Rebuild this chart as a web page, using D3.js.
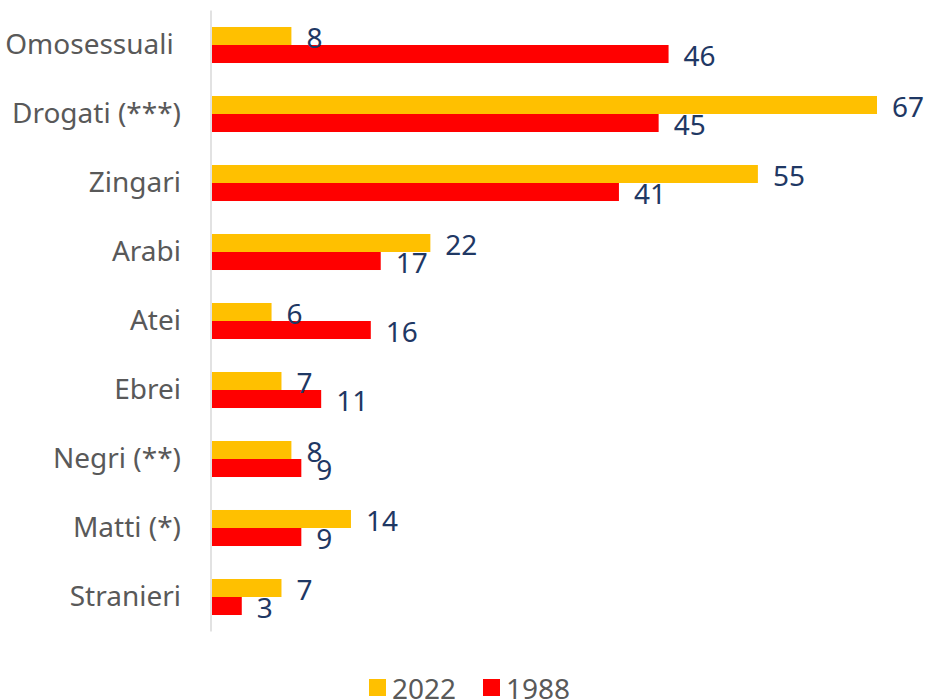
<!doctype html>
<html lang="it">
  <head>
    <meta charset="utf-8">
    <title>Pregiudizi 1988 - 2022</title>
    <script src="https://d3js.org/d3.v7.min.js"></script>
    <style>
      body { margin: 0; background: #fff; }
      svg { display: block; }
    </style>
  </head>
  <body>
    <svg width="927" height="700"></svg>
    <script>
      var categories = ["Omosessuali ", "Drogati (***)", "Zingari", "Arabi", "Atei", "Ebrei", "Negri (**)", "Matti (*)", "Stranieri"];
      var values2022 = [8, 67, 55, 22, 6, 7, 8, 14, 7];
      var values1988 = [46, 45, 41, 17, 16, 11, 9, 9, 3];
      var seriesNames = ["2022", "1988"];
      var seriesColors = ["#FFC000", "#FF0000"];

      var svg = d3.select("svg");
      var font = "'Noto Sans', 'Open Sans', sans-serif";

      var x = d3.scaleLinear().domain([0, 67]).range([212, 877]);
      var y = d3.scaleBand()
                .domain(categories)
                .range([10.5, 631.5])
                .paddingInner(0.478)
                .paddingOuter(0.239);
      var ySub = d3.scaleBand()
                   .domain(seriesNames)
                   .range([0, y.bandwidth()]);

      var rows = categories.map(function(c, i) {
        return { cat: c, values: [values2022[i], values1988[i]] };
      });

      // vertical axis line
      svg.append("line")
        .attr("x1", 211).attr("x2", 211)
        .attr("y1", y.range()[0]).attr("y2", y.range()[1])
        .attr("stroke", "#D9D9D9")
        .attr("stroke-width", 1.5);

      var yAxis = svg.append("g")
        .attr("transform", "translate(181,0)")
        .call(d3.axisLeft(y).tickSize(0).tickPadding(0));
      yAxis.select(".domain").remove();
      yAxis.selectAll("text")
        .attr("font-family", font)
        .attr("font-size", 28)
        .attr("fill", "#595959")
        .style("white-space", "pre");

      var group = svg.selectAll(".row")
        .data(rows)
        .enter().append("g")
          .attr("class", "row")
          .attr("transform", function(d) { return "translate(0," + y(d.cat) + ")"; });

      group.selectAll("rect")
        .data(function(d) { return d.values; })
        .enter().append("rect")
          .attr("x", x(0))
          .attr("y", function(d, i) { return ySub(seriesNames[i]); })
          .attr("width", function(d) { return x(d) - x(0); })
          .attr("height", ySub.bandwidth())
          .attr("fill", function(d, i) { return seriesColors[i]; });

      group.selectAll("text.val")
        .data(function(d) { return d.values; })
        .enter().append("text")
          .attr("class", "val")
          .attr("x", function(d) { return x(d) + 15; })
          .attr("y", function(d, i) { return ySub(seriesNames[i]) + ySub.bandwidth() / 2; })
          .attr("dy", "0.42em")
          .attr("font-family", font)
          .attr("font-size", 28)
          .attr("fill", "#1F3864")
          .text(function(d) { return d; });

      // legend
      var legendX = [369, 483];
      var legend = svg.selectAll(".legend")
        .data(seriesNames)
        .enter().append("g")
          .attr("class", "legend")
          .attr("transform", function(d, i) { return "translate(" + legendX[i] + ",679)"; });
      legend.append("rect")
        .attr("width", 17).attr("height", 17)
        .attr("fill", function(d, i) { return seriesColors[i]; });
      legend.append("text")
        .attr("x", 23)
        .attr("y", 8.5)
        .attr("dy", "0.42em")
        .attr("font-family", font)
        .attr("font-size", 28)
        .attr("fill", "#595959")
        .text(function(d) { return d; });
    </script>
  </body>
</html>
